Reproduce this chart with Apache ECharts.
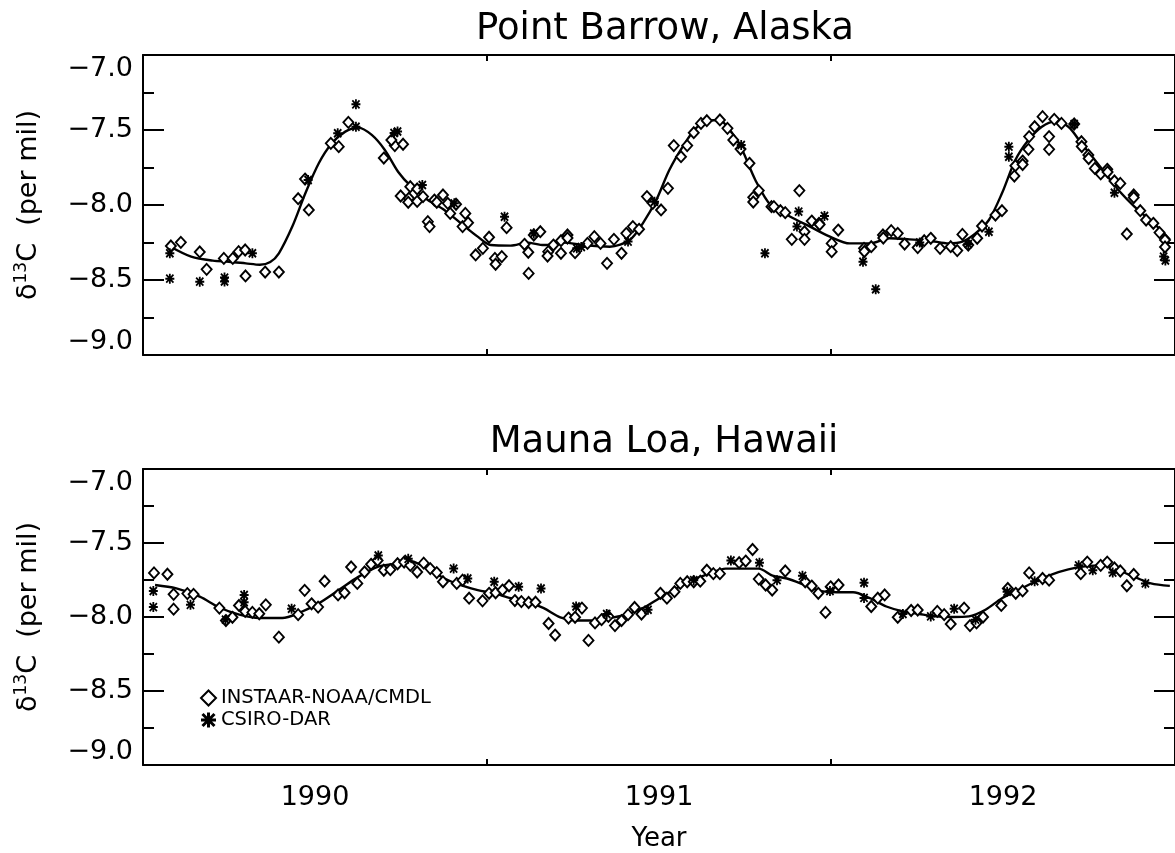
<!DOCTYPE html>
<html>
<head>
<meta charset="utf-8">
<script src="https://cdn.jsdelivr.net/npm/echarts@6/dist/echarts.min.js"></script>
<style>
html,body{margin:0;padding:0;background:#fff;overflow:hidden;}
#chart{width:1175px;height:853px;}
</style>
</head>
<body>
<div id="chart"></div>
<script>
// ---------- DATA ----------
const titles = ['Point Barrow, Alaska', 'Mauna Loa, Hawaii'];
const seriesNames = ['INSTAAR-NOAA/CMDL', 'CSIRO-DAR'];
const yearLabels = [1990, 1991, 1992];
const yTicks = [-9.0, -8.5, -8.0, -7.5, -7.0];

const barrowFit = [
[1990.080,-8.278],[1990.140,-8.344],[1990.203,-8.371],[1990.250,-8.378],[1990.299,-8.389],[1990.340,-8.398],
[1990.370,-8.380],[1990.395,-8.322],[1990.434,-8.144],[1990.472,-7.922],[1990.511,-7.722],[1990.549,-7.589],
[1990.588,-7.511],[1990.626,-7.484],[1990.665,-7.533],[1990.703,-7.633],[1990.742,-7.780],[1990.780,-7.878],
[1990.828,-7.967],[1990.876,-8.033],[1990.924,-8.122],[1990.973,-8.211],[1991.011,-8.267],[1991.069,-8.271],
[1991.117,-8.251],[1991.165,-8.267],[1991.223,-8.251],[1991.280,-8.267],[1991.357,-8.278],[1991.415,-8.233],
[1991.453,-8.122],[1991.492,-7.967],[1991.530,-7.767],[1991.569,-7.611],[1991.607,-7.489],[1991.646,-7.438],
[1991.675,-7.433],[1991.713,-7.522],[1991.742,-7.633],[1991.780,-7.833],[1991.826,-8.005],[1991.882,-8.078],
[1991.939,-8.144],[1991.997,-8.211],[1992.055,-8.256],[1992.113,-8.256],[1992.170,-8.222],[1992.228,-8.229],
[1992.286,-8.238],[1992.343,-8.256],[1992.382,-8.244],[1992.420,-8.189],[1992.459,-8.100],[1992.497,-7.922],
[1992.536,-7.700],[1992.574,-7.567],[1992.613,-7.478],[1992.651,-7.444],[1992.690,-7.478],[1992.728,-7.589],
[1992.767,-7.700],[1992.805,-7.811],[1992.844,-7.922],[1992.882,-8.011],[1992.921,-8.089],[1992.959,-8.167],
[1992.985,-8.230]
];

const barrowInstaar = [
[1990.081,-8.273],[1990.110,-8.249],[1990.165,-8.313],[1990.185,-8.429],[1990.235,-8.356],[1990.261,-8.356],
[1990.278,-8.311],[1990.297,-8.300],[1990.298,-8.473],[1990.355,-8.447],[1990.395,-8.447],[1990.451,-7.958],
[1990.482,-8.033],[1990.471,-7.827],[1990.546,-7.589],[1990.569,-7.611],[1990.597,-7.449],[1990.700,-7.687],
[1990.732,-7.604],[1990.722,-7.567],[1990.756,-7.595],[1990.749,-7.940],[1990.773,-7.955],[1990.771,-7.982],
[1990.777,-7.878],[1990.797,-7.893],[1990.797,-7.976],[1990.814,-7.944],[1990.828,-8.111],[1990.833,-8.144],
[1990.847,-7.967],[1990.854,-7.982],[1990.872,-7.933],[1990.886,-7.989],[1990.893,-8.056],[1990.910,-7.995],
[1990.937,-8.056],[1990.929,-8.144],[1990.945,-8.118],[1990.967,-8.333],[1990.988,-8.289],[1991.006,-8.215],
[1991.023,-8.356],[1991.025,-8.395],[1991.043,-8.344],[1991.057,-8.151],[1991.109,-8.262],[1991.120,-8.315],
[1991.121,-8.456],[1991.136,-8.200],[1991.155,-8.178],[1991.178,-8.311],[1991.176,-8.340],[1991.193,-8.267],
[1991.215,-8.238],[1991.215,-8.322],[1991.234,-8.200],[1991.234,-8.220],[1991.256,-8.318],[1991.292,-8.256],
[1991.312,-8.211],[1991.330,-8.256],[1991.349,-8.389],[1991.369,-8.229],[1991.391,-8.322],[1991.405,-8.189],
[1991.424,-8.144],[1991.442,-8.162],[1991.465,-7.944],[1991.482,-7.989],[1991.506,-8.033],[1991.526,-7.889],
[1991.543,-7.604],[1991.564,-7.678],[1991.582,-7.604],[1991.601,-7.518],[1991.622,-7.456],[1991.639,-7.438],
[1991.677,-7.433],[1991.699,-7.489],[1991.716,-7.567],[1991.737,-7.627],[1991.763,-7.722],[1991.790,-7.904],
[1991.774,-7.949],[1991.774,-7.980],[1991.827,-8.011],[1991.834,-8.011],[1991.853,-8.038],[1991.867,-8.051],
[1991.886,-8.229],[1991.908,-7.904],[1991.923,-8.178],[1991.923,-8.229],[1991.944,-8.107],[1991.965,-8.122],
[1991.967,-8.130],[1992.002,-8.256],[1992.002,-8.311],[1992.021,-8.167],[1992.096,-8.289],[1992.097,-8.310],
[1992.117,-8.278],[1992.151,-8.200],[1992.152,-8.220],[1992.175,-8.171],[1992.194,-8.189],[1992.214,-8.260],
[1992.252,-8.284],[1992.271,-8.238],[1992.290,-8.222],[1992.317,-8.289],[1992.348,-8.278],[1992.367,-8.304],
[1992.382,-8.196],[1992.399,-8.267],[1992.425,-8.222],[1992.439,-8.140],[1992.478,-8.067],[1992.497,-8.038],
[1992.533,-7.807],[1992.536,-7.738],[1992.557,-7.707],[1992.557,-7.730],[1992.574,-7.629],[1992.576,-7.544],
[1992.592,-7.478],[1992.615,-7.411],[1992.634,-7.544],[1992.634,-7.629],[1992.649,-7.429],[1992.670,-7.456],
[1992.707,-7.460],[1992.728,-7.578],[1992.729,-7.610],[1992.748,-7.667],[1992.749,-7.690],[1992.767,-7.756],
[1992.784,-7.793],[1992.803,-7.762],[1992.804,-7.780],[1992.824,-7.840],[1992.841,-7.856],[1992.860,-8.193],
[1992.880,-7.933],[1992.880,-7.950],[1992.899,-8.038],[1992.916,-8.100],[1992.937,-8.122],[1992.955,-8.184],
[1992.971,-8.233],[1992.971,-8.280]
];

const barrowCsiro = [
[1990.078,-8.322],[1990.078,-8.491],[1990.165,-8.511],[1990.237,-8.484],[1990.237,-8.510],[1990.318,-8.322],
[1990.480,-7.833],[1990.566,-7.522],[1990.619,-7.329],[1990.619,-7.478],[1990.730,-7.520],[1990.740,-7.510],
[1990.812,-7.867],[1990.905,-7.989],[1991.051,-8.078],[1991.136,-8.190],[1991.261,-8.289],[1991.274,-8.280],
[1991.410,-8.244],[1991.487,-7.978],[1991.739,-7.600],[1991.808,-8.322],[1991.906,-8.044],[1991.901,-8.144],
[1991.981,-8.073],[1992.093,-8.378],[1992.130,-8.562],[1992.258,-8.250],[1992.399,-8.260],[1992.459,-8.178],
[1992.517,-7.611],[1992.517,-7.678],[1992.707,-7.460],[1992.824,-7.918],[1992.967,-8.344],[1992.972,-8.370]
];

const maunaFit = [
[1990.035,-7.784],[1990.097,-7.807],[1990.165,-7.862],[1990.222,-7.936],[1990.280,-7.984],[1990.338,-8.007],
[1990.405,-8.007],[1990.453,-7.973],[1990.511,-7.907],[1990.569,-7.818],[1990.626,-7.729],[1990.684,-7.660],
[1990.732,-7.640],[1990.771,-7.618],[1990.828,-7.673],[1990.876,-7.740],[1990.924,-7.784],[1990.973,-7.818],
[1991.021,-7.840],[1991.069,-7.873],[1991.117,-7.896],[1991.165,-7.940],[1991.213,-8.002],[1991.261,-8.024],
[1991.309,-8.024],[1991.357,-8.007],[1991.405,-7.984],[1991.453,-7.940],[1991.501,-7.873],[1991.550,-7.807],
[1991.598,-7.751],[1991.646,-7.707],[1991.694,-7.673],[1991.742,-7.673],[1991.790,-7.673],[1991.830,-7.720],
[1991.872,-7.740],[1991.920,-7.780],[1991.968,-7.824],[1992.016,-7.833],[1992.064,-7.833],[1992.113,-7.873],
[1992.161,-7.929],[1992.209,-7.962],[1992.257,-7.980],[1992.305,-7.996],[1992.353,-8.000],[1992.401,-7.996],
[1992.449,-7.951],[1992.497,-7.873],[1992.545,-7.818],[1992.593,-7.762],[1992.641,-7.713],[1992.690,-7.678],
[1992.738,-7.658],[1992.786,-7.651],[1992.834,-7.684],[1992.882,-7.729],[1992.930,-7.773],[1992.985,-7.790]
];

const maunaInstaar = [
[1990.032,-7.702],[1990.071,-7.711],[1990.089,-7.847],[1990.089,-7.947],[1990.129,-7.842],[1990.147,-7.847],
[1990.222,-7.940],[1990.241,-8.024],[1990.260,-8.002],[1990.279,-7.922],[1990.297,-7.962],[1990.318,-7.969],
[1990.338,-7.978],[1990.357,-7.918],[1990.395,-8.136],[1990.451,-7.984],[1990.470,-7.820],[1990.490,-7.911],
[1990.509,-7.933],[1990.528,-7.758],[1990.567,-7.851],[1990.586,-7.836],[1990.605,-7.662],[1990.623,-7.773],
[1990.644,-7.696],[1990.663,-7.644],[1990.682,-7.618],[1990.700,-7.684],[1990.719,-7.680],[1990.740,-7.640],
[1990.759,-7.629],[1990.777,-7.651],[1990.797,-7.696],[1990.816,-7.636],[1990.835,-7.673],[1990.854,-7.700],
[1990.872,-7.762],[1990.912,-7.773],[1990.929,-7.751],[1990.948,-7.873],[1990.987,-7.891],[1991.006,-7.840],
[1991.025,-7.836],[1991.045,-7.818],[1991.064,-7.789],[1991.081,-7.889],[1991.100,-7.896],[1991.121,-7.902],
[1991.141,-7.900],[1991.179,-8.044],[1991.198,-8.122],[1991.237,-8.007],[1991.256,-8.002],[1991.276,-7.940],
[1991.295,-8.158],[1991.314,-8.040],[1991.333,-8.018],[1991.353,-7.996],[1991.372,-8.058],[1991.391,-8.024],
[1991.410,-7.984],[1991.429,-7.936],[1991.449,-7.980],[1991.504,-7.840],[1991.523,-7.873],[1991.545,-7.829],
[1991.562,-7.773],[1991.582,-7.762],[1991.601,-7.762],[1991.620,-7.758],[1991.639,-7.684],[1991.658,-7.707],
[1991.677,-7.707],[1991.733,-7.633],[1991.752,-7.622],[1991.772,-7.544],[1991.790,-7.744],[1991.810,-7.784],
[1991.829,-7.818],[1991.867,-7.689],[1991.925,-7.762],[1991.944,-7.791],[1991.963,-7.840],[1991.984,-7.969],
[1991.999,-7.796],[1992.022,-7.784],[1992.117,-7.929],[1992.136,-7.873],[1992.156,-7.851],[1992.194,-8.002],
[1992.233,-7.956],[1992.252,-7.953],[1992.309,-7.962],[1992.329,-7.984],[1992.348,-8.047],[1992.387,-7.940],
[1992.404,-8.058],[1992.423,-8.040],[1992.442,-8.000],[1992.495,-7.922],[1992.514,-7.807],[1992.537,-7.840],
[1992.557,-7.824],[1992.576,-7.702],[1992.615,-7.740],[1992.634,-7.751],[1992.726,-7.707],[1992.745,-7.629],
[1992.784,-7.651],[1992.803,-7.629],[1992.824,-7.669],[1992.841,-7.689],[1992.860,-7.789],[1992.880,-7.713]
];

const maunaCsiro = [
[1990.030,-7.824],[1990.030,-7.933],[1990.138,-7.918],[1990.240,-8.018],[1990.294,-7.851],[1990.294,-7.900],
[1990.432,-7.944],[1990.684,-7.584],[1990.771,-7.607],[1990.903,-7.673],[1990.944,-7.740],[1991.021,-7.762],
[1991.092,-7.796],[1991.157,-7.807],[1991.259,-7.929],[1991.348,-7.980],[1991.468,-7.951],[1991.601,-7.751],
[1991.709,-7.618],[1991.792,-7.633],[1991.843,-7.751],[1991.917,-7.722],[1991.997,-7.824],[1992.096,-7.769],
[1992.096,-7.871],[1992.209,-7.980],[1992.290,-7.996],[1992.358,-7.944],[1992.420,-8.018],[1992.512,-7.829],
[1992.592,-7.758],[1992.720,-7.651],[1992.761,-7.684],[1992.819,-7.700],[1992.914,-7.773]
];

// ---------- STYLE / LAYOUT ----------
const FONT = 'DejaVu Sans';
const INK = '#000';
const ASTERISK = 'path://M8 0L12 0L12 20L8 20Z M0 8L20 8L20 12L0 12Z M3.4 0.6L19.4 16.6L16.6 19.4L0.6 3.4Z M16.6 0.6L19.4 3.4L3.4 19.4L0.6 16.6Z';
const X_MIN = 1990, X_MAX = 1993;
const grids = [
  {left: 143, top: 55, width: 1040, height: 300},
  {left: 143, top: 469, width: 1040, height: 300}
];

function fmtY(v) {
  return (v < 0 ? '\u2212' : '') + Math.abs(v).toFixed(1);
}

function xAx(gi, pos) {
  return {
    type: 'value', gridIndex: gi, position: pos, min: X_MIN, max: X_MAX, interval: 1,
    axisLine: {show: true, onZero: false, lineStyle: {color: INK, width: 2}},
    axisTick: {show: true, inside: true, length: 6, lineStyle: {color: INK, width: 2}},
    axisLabel: {show: false},
    splitLine: {show: false}
  };
}

function yAx(gi, pos, withLabels) {
  return {
    type: 'value', gridIndex: gi, position: pos, min: yTicks[0], max: yTicks[yTicks.length - 1], interval: 0.5,
    axisLine: {show: true, onZero: false, lineStyle: {color: INK, width: 2}},
    axisTick: {show: true, inside: true, length: 21, lineStyle: {color: INK, width: 2}},
    minorTick: {show: true, splitNumber: 2, length: 11, lineStyle: {color: INK, width: 2}},
    axisLabel: {
      show: withLabels, formatter: fmtY, margin: 10, color: INK,
      fontFamily: FONT, fontSize: 27,
      verticalAlignMaxLabel: 'top', verticalAlignMinLabel: 'bottom'
    },
    splitLine: {show: false},
    name: withLabels ? '{d|\u03b4}{s|13}{d|C  (per mil)}' : '',
    nameLocation: 'middle', nameRotate: 90, nameGap: 99,
    nameTextStyle: {
      rich: {
        d: {fontFamily: FONT, fontSize: 27, color: INK},
        s: {fontFamily: FONT, fontSize: 17, color: INK, padding: [0, 0, 14, 0]}
      }
    }
  };
}

const xAxes = [
  xAx(0, 'bottom'), xAx(0, 'top'), xAx(1, 'bottom'), xAx(1, 'top'),
  {
    type: 'value', gridIndex: 1, position: 'bottom', min: X_MIN, max: X_MAX, interval: 0.5,
    axisLine: {show: false}, axisTick: {show: false}, splitLine: {show: false},
    axisLabel: {
      show: true, margin: 19, color: INK, fontFamily: FONT, fontSize: 27,
      formatter: function (v) {
        const y = Math.floor(v + 1e-6);
        return (Math.abs(v - y - 0.5) < 1e-6 && yearLabels.indexOf(y) >= 0) ? String(y) : '';
      },
      showMinLabel: false, showMaxLabel: false
    },
    name: 'Year', nameLocation: 'middle', nameGap: 61,
    nameTextStyle: {fontFamily: FONT, fontSize: 26, color: INK}
  }
];

const yAxes = [yAx(0, 'left', true), yAx(0, 'right', false), yAx(1, 'left', true), yAx(1, 'right', false)];

function panelSeries(gi, fit, inst, csiro) {
  const xi = gi === 0 ? 0 : 2;
  const yi = gi === 0 ? 0 : 2;
  return [
    {
      name: 'fit', type: 'line', xAxisIndex: xi, yAxisIndex: yi, data: fit,
      smooth: 0.3, showSymbol: false, symbol: 'none', silent: true,
      lineStyle: {color: INK, width: 2.4}, z: 2
    },
    {
      name: seriesNames[0], type: 'scatter', xAxisIndex: xi, yAxisIndex: yi, data: inst,
      symbol: 'diamond', symbolSize: [10, 11],
      itemStyle: {color: '#fff', borderColor: INK, borderWidth: 1.9, opacity: 1}, z: 3
    },
    {
      name: seriesNames[1], type: 'scatter', xAxisIndex: xi, yAxisIndex: yi, data: csiro,
      symbol: ASTERISK, symbolSize: [9, 10],
      itemStyle: {color: INK, borderWidth: 0, opacity: 1}, z: 4
    }
  ];
}

const option = {
  backgroundColor: '#fff',
  animation: false,
  title: [
    {text: titles[0], left: 660, top: 6, textAlign: 'center',
     textStyle: {fontFamily: FONT, fontSize: 37, fontWeight: 'normal', color: INK}},
    {text: titles[1], left: 659, top: 419, textAlign: 'center',
     textStyle: {fontFamily: FONT, fontSize: 37, fontWeight: 'normal', color: INK}}
  ],
  legend: {
    data: [
      {name: seriesNames[0], icon: 'diamond', itemStyle: {color: '#fff', borderColor: INK, borderWidth: 2}},
      {name: seriesNames[1], icon: ASTERISK, itemStyle: {color: INK, borderWidth: 0}}
    ],
    orient: 'vertical', left: 195, top: 683,
    itemWidth: 15, itemHeight: 15, itemGap: 2, selectedMode: false,
    textStyle: {fontFamily: FONT, fontSize: 19.5, color: INK, lineHeight: 20}
  },
  grid: grids,
  xAxis: xAxes,
  yAxis: yAxes,
  series: [].concat(
    panelSeries(0, barrowFit, barrowInstaar, barrowCsiro),
    panelSeries(1, maunaFit, maunaInstaar, maunaCsiro)
  )
};

const chart = echarts.init(document.getElementById('chart'), null, {renderer: 'canvas'});
chart.setOption(option);
</script>
</body>
</html>
